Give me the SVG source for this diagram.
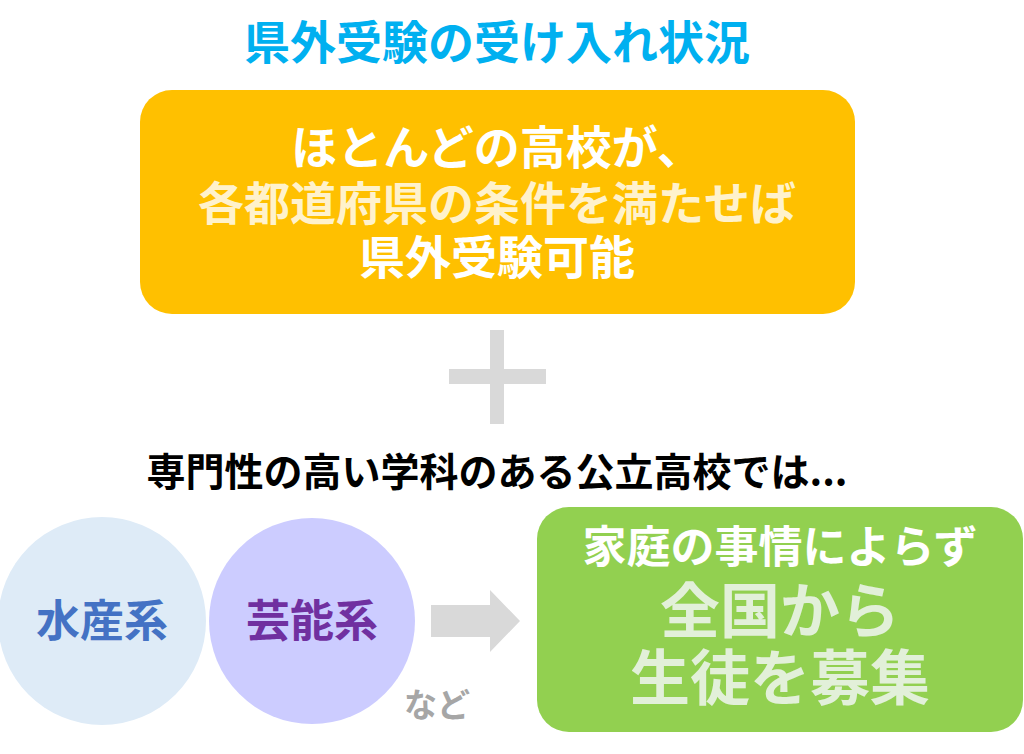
<svg xmlns="http://www.w3.org/2000/svg" width="1024" height="754" viewBox="0 0 1024 754">
<style>
text{font-family:"Noto Sans CJK JP","Noto Sans",sans-serif;text-anchor:middle;font-weight:700}
.w{fill:#FFFFFF}
.cream{fill:#FFF2CC}
.lg{fill:#E2F0D9}
.gray{fill:#D9D9D9}
</style>
<rect width="1024" height="754" fill="#FFFFFF"/>
<g id="title"><text x="497" y="59" font-size="46" fill="#00B0F0">県外受験の受け入れ状況</text></g>
<g id="box-top">
<rect x="140" y="90" width="715" height="224" rx="32" fill="#FFC000"/>
<text x="497" y="164" font-size="46" class="w">ほとんどの高校が、</text>
<text x="497" y="220" font-size="46" class="cream">各都道府県の条件を満たせば</text>
<text x="497" y="274" font-size="46" class="w">県外受験可能</text>
</g>
<g id="plus">
<rect x="449" y="369" width="97" height="15" class="gray"/>
<rect x="490" y="330" width="14" height="94" class="gray"/>
</g>
<g id="subtitle"><text x="497" y="486" font-size="39" fill="#000000">専門性の高い学科のある公立高校では...</text></g>
<g id="node-suisan">
<circle cx="102" cy="621" r="104" fill="#DEEBF7"/>
<text x="102" y="637" font-size="44" fill="#4472C4">水産系</text>
</g>
<g id="node-geino">
<circle cx="312" cy="621" r="103" fill="#CCCCFF"/>
<text x="312" y="637" font-size="44" fill="#7030A0">芸能系</text>
</g>
<g id="nado"><text x="437" y="717" font-size="33" fill="#A6A6A6" font-weight="500">など</text></g>
<g id="connectors">
<polygon points="431,605 490,605 490,590 520,621 490,652 490,637 431,637" class="gray"/>
</g>
<g id="box-result">
<rect x="537" y="507" width="486" height="225" rx="32" fill="#92D050"/>
<text x="780" y="563" font-size="44" class="w" font-weight="500">家庭の事情によらず</text>
<text x="780" y="633" font-size="60" class="lg" font-weight="500">全国から</text>
<text x="780" y="700" font-size="60" class="lg" font-weight="500">生徒を募集</text>
</g>
</svg>
